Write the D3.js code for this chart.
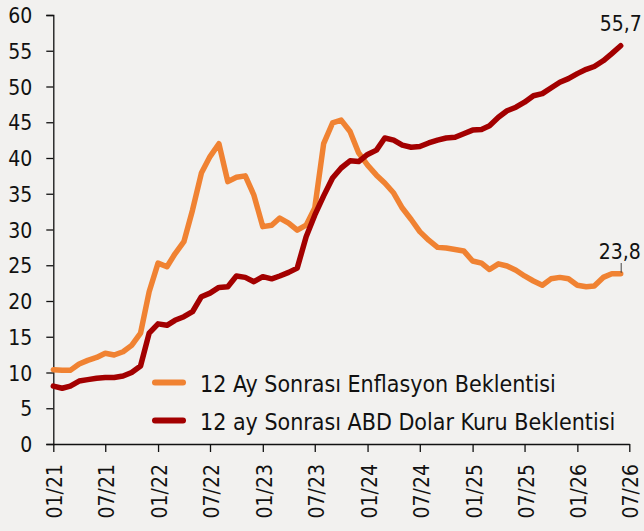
<!DOCTYPE html>
<html>
<head>
<meta charset="utf-8">
<script src="https://cdn.jsdelivr.net/npm/d3@7"></script>
<style>
html,body{margin:0;padding:0;background:#f2f1ef;}
svg{display:block;}
text{font-family:"DejaVu Sans Condensed","DejaVu Sans",sans-serif;fill:#111;}
</style>
</head>
<body>
<svg id="chart" width="644" height="531"></svg>
<script>
const startMonth = "2021-01";
const inflation = [10.4,10.3,10.3,11.2,11.7,12.1,12.7,12.45,12.9,13.8,15.5,21.3,25.3,24.8,26.6,28.3,32.7,37.9,40.2,42.0,36.7,37.3,37.5,34.8,30.4,30.6,31.6,30.9,29.9,30.6,33.0,42.0,44.9,45.3,43.7,40.7,39.0,37.6,36.5,35.1,33.0,31.4,29.7,28.5,27.5,27.4,27.2,27.0,25.6,25.3,24.4,25.2,24.9,24.3,23.5,22.8,22.2,23.1,23.3,23.1,22.2,22.0,22.1,23.3,23.8,23.8];
const usd = [8.1,7.8,8.1,8.8,9.0,9.2,9.3,9.3,9.5,10.0,10.9,15.5,16.8,16.6,17.3,17.8,18.5,20.6,21.1,21.9,22.0,23.5,23.3,22.7,23.4,23.1,23.5,24.0,24.6,29.0,32.0,34.7,37.2,38.6,39.6,39.5,40.5,41.1,42.8,42.5,41.8,41.5,41.6,42.1,42.5,42.8,42.9,43.4,43.9,44.0,44.5,45.7,46.6,47.1,47.8,48.7,49.0,49.8,50.6,51.1,51.8,52.4,52.8,53.6,54.6,55.7];
const seriesNames = ["12 Ay Sonrası Enflasyon Beklentisi","12 ay Sonrası ABD Dolar Kuru Beklentisi"];
const xTickLabels = ["01/21","07/21","01/22","07/22","01/23","07/23","01/24","07/24","01/25","07/25","01/26","07/26"];
const yTicks = [0,5,10,15,20,25,30,35,40,45,50,55,60];
const endLabels = ["55,7","23,8"];
const colors = ["#f08232","#a30000"];

const parseM = d3.timeParse("%Y-%m");
const start = parseM(startMonth);
const dates = inflation.map((_,i)=>d3.timeMonth.offset(start,i));
const tickDates = xTickLabels.map(s=>d3.timeParse("%m/%y")(s));

const svg = d3.select("#chart");
const L = 53.3, R = 629.3, T = 15, B = 444;
const x = d3.scaleTime().domain([tickDates[0], tickDates[tickDates.length-1]]).range([L,R]);
const y = d3.scaleLinear().domain([0,60]).range([B,T]);

// axes
const yAxis = d3.axisLeft(y).tickValues(yTicks).tickSize(7).tickFormat(d3.format("d"));
const gy = svg.append("g").attr("transform",`translate(${L},0)`).call(yAxis);
gy.select(".domain").attr("stroke","#111").attr("stroke-width",1.3);
gy.selectAll(".tick line").attr("stroke","#111").attr("stroke-width",1.3);
gy.selectAll(".tick text").attr("x",-21).attr("dy","0.36em")
  .style("font-size","21px").attr("fill","#111");

const xAxis = d3.axisBottom(x).tickValues(tickDates).tickSize(8).tickSizeOuter(0).tickFormat((d,i)=>xTickLabels[i]);
const gx = svg.append("g").attr("transform",`translate(0,${B})`).call(xAxis);
gx.select(".domain").attr("stroke","#111").attr("stroke-width",1.3);
gx.selectAll(".tick line").attr("stroke","#111").attr("stroke-width",1.3);
gx.selectAll(".tick text")
  .attr("transform","translate(8.5,20) rotate(-90)")
  .attr("x",0).attr("y",0).attr("dy",0)
  .attr("text-anchor","end")
  .style("font-size","21px").attr("fill","#111");

// lines
const line = d3.line().x((d,i)=>x(dates[i])).y(d=>y(d));
[inflation, usd].forEach((s,k)=>{
  svg.append("path").datum(s).attr("d",line)
    .attr("fill","none").attr("stroke",colors[k]).attr("stroke-width",5.5)
    .attr("stroke-linejoin","round").attr("stroke-linecap","round");
});

// end labels
const last = dates.length-1;
svg.append("text").attr("x",x(dates[last])).attr("y",31).attr("text-anchor","middle")
  .style("font-size","21px").text(endLabels[0]);
svg.append("line").attr("x1",x(dates[last])+0.5).attr("x2",x(dates[last])+0.5)
  .attr("y1",263).attr("y2",y(inflation[last])-1).attr("stroke","#444").attr("stroke-width",1);
svg.append("text").attr("x",x(dates[last])-22).attr("y",259).attr("text-anchor","start")
  .style("font-size","21px").text(endLabels[1]);

// legend
const legY = [382.5, 420.5];
seriesNames.forEach((n,k)=>{
  svg.append("line").attr("x1",155).attr("x2",183).attr("y1",legY[k]).attr("y2",legY[k])
    .attr("stroke",colors[k]).attr("stroke-width",6).attr("stroke-linecap","round");
  svg.append("text").attr("x",200).attr("y",legY[k]+9).style("font-size","23px").text(n);
});
</script>
</body>
</html>
